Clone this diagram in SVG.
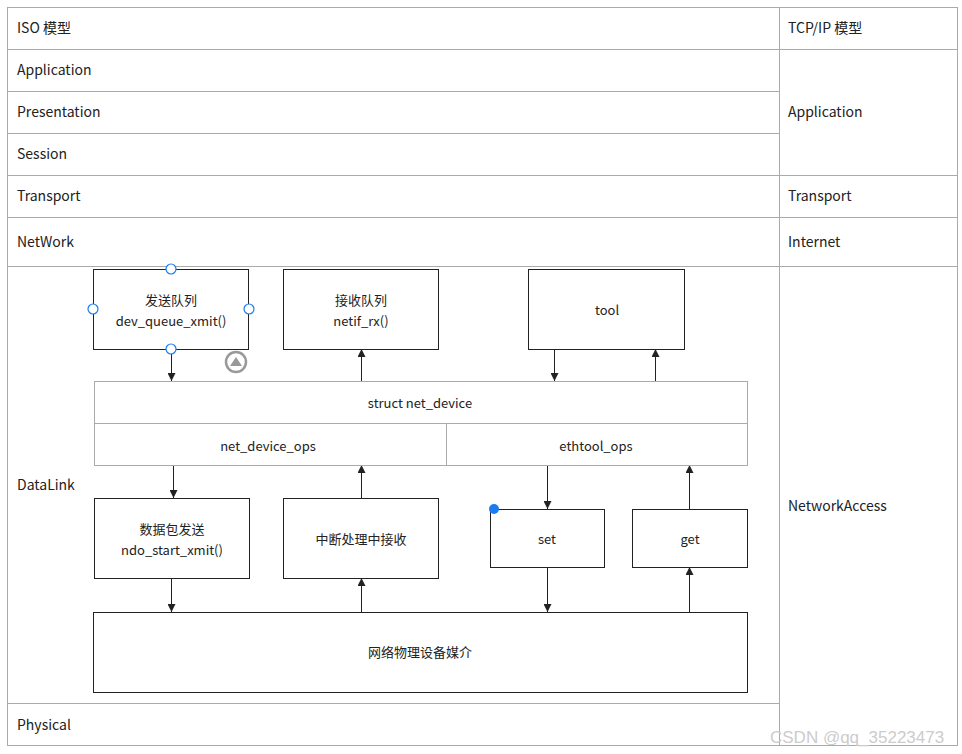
<svg xmlns="http://www.w3.org/2000/svg" width="962" height="754" viewBox="0 0 962 754">
<style>
text{font-family:"Noto Sans CJK SC","Noto Sans",sans-serif;font-size:14px;fill:#222}
.c{text-anchor:middle}
.s{font-size:13px}
.g{fill:none;stroke:#aaa;stroke-width:1}
.b{fill:#fff;stroke:#222;stroke-width:1}
.gb{fill:#fff;stroke:#aaa;stroke-width:1}
.a{stroke:#222;stroke-width:1;fill:none;marker-end:url(#m)}
.h{fill:#fff;stroke:#1a7cf0;stroke-width:1.2}
</style>
<defs><marker id="m" viewBox="0 0 10 10" refX="10" refY="5" markerWidth="8" markerHeight="8" markerUnits="userSpaceOnUse" orient="auto"><path d="M0,0L10,5L0,10z" fill="#222"/></marker></defs>
<rect width="962" height="754" fill="#fff"/>
<g id="table">
<rect class="g" x="7.5" y="7.5" width="950" height="738"/>
<line class="g" x1="779.5" y1="7" x2="779.5" y2="745"/>
<path class="g" d="M7 49.5H957M7 91.5H779M7 133.5H779M7 175.5H957M7 217.5H957M7 266.5H957M7 703.5H779"/>
<text x="17" y="33">ISO 模型</text><text x="788" y="33">TCP/IP 模型</text>
<text x="17" y="75">Application</text><text x="17" y="117">Presentation</text><text x="17" y="159">Session</text>
<text x="17" y="201">Transport</text><text x="17" y="247">NetWork</text><text x="17" y="490">DataLink</text><text x="17" y="730">Physical</text>
<text x="788" y="117">Application</text><text x="788" y="201">Transport</text><text x="788" y="247">Internet</text><text x="788" y="511">NetworkAccess</text>
</g>
<g id="connectors">
<line class="a" x1="171.5" y1="349" x2="171.5" y2="381"/>
<line class="a" x1="361.5" y1="381" x2="361.5" y2="349"/>
<line class="a" x1="554.5" y1="349" x2="554.5" y2="381"/>
<line class="a" x1="655.5" y1="381" x2="655.5" y2="349"/>
<line class="a" x1="173.5" y1="465" x2="173.5" y2="498"/>
<line class="a" x1="361.5" y1="498" x2="361.5" y2="465"/>
<line class="a" x1="547.5" y1="465" x2="547.5" y2="509"/>
<line class="a" x1="689.5" y1="509" x2="689.5" y2="465"/>
<line class="a" x1="171.5" y1="578" x2="171.5" y2="612"/>
<line class="a" x1="361.5" y1="612" x2="361.5" y2="578"/>
<line class="a" x1="547.5" y1="567" x2="547.5" y2="612"/>
<line class="a" x1="689.5" y1="612" x2="689.5" y2="567"/>
</g>
<g id="send"><rect class="b" x="93.5" y="269.5" width="155" height="80"/><text class="c s" x="171" y="305">发送队列</text><text class="c s" x="171" y="326">dev_queue_xmit()</text></g>
<g id="recv"><rect class="b" x="283.5" y="269.5" width="155" height="80"/><text class="c s" x="361" y="305">接收队列</text><text class="c s" x="361" y="326">netif_rx()</text></g>
<g id="tool"><rect class="b" x="528.5" y="269.5" width="156" height="80"/><text class="c s" x="607" y="315">tool</text></g>
<g id="netdev"><rect class="gb" x="94.5" y="381.5" width="653" height="42"/><text class="c s" x="420" y="408">struct net_device</text></g>
<g id="ndo"><rect class="gb" x="94.5" y="423.5" width="352" height="42"/><text class="c s" x="268" y="451">net_device_ops</text></g>
<g id="eth"><rect class="gb" x="446.5" y="423.5" width="301" height="42"/><text class="c s" x="596" y="451">ethtool_ops</text></g>
<g id="xmit"><rect class="b" x="94.5" y="498.5" width="155" height="80"/><text class="c s" x="172" y="534">数据包发送</text><text class="c s" x="172" y="555">ndo_start_xmit()</text></g>
<g id="irq"><rect class="b" x="283.5" y="498.5" width="155" height="80"/><text class="c s" x="361" y="544">中断处理中接收</text></g>
<g id="set"><rect class="b" x="490.5" y="509.5" width="114" height="58"/><text class="c s" x="547" y="544">set</text></g>
<g id="get"><rect class="b" x="632.5" y="509.5" width="115" height="58"/><text class="c s" x="690" y="544">get</text></g>
<g id="phy"><rect class="b" x="93.5" y="612.5" width="654" height="80"/><text class="c s" x="420" y="657">网络物理设备媒介</text></g>
<g id="handles">
<circle class="h" cx="171" cy="269" r="5"/><circle class="h" cx="171" cy="349" r="5"/><circle class="h" cx="93" cy="309" r="5"/><circle class="h" cx="249" cy="309" r="5"/>
<circle cx="236" cy="362" r="10" fill="none" stroke="#999" stroke-width="2.5"/><path d="M230 366L236 357L242 366z" fill="#999"/>
<circle cx="494" cy="509" r="5" fill="#1a7cf0"/>
</g>
<text x="770" y="743" style="font-size:17px;fill:#ccc;font-family:'Liberation Sans',sans-serif">CSDN @qq_35223473</text>
</svg>
